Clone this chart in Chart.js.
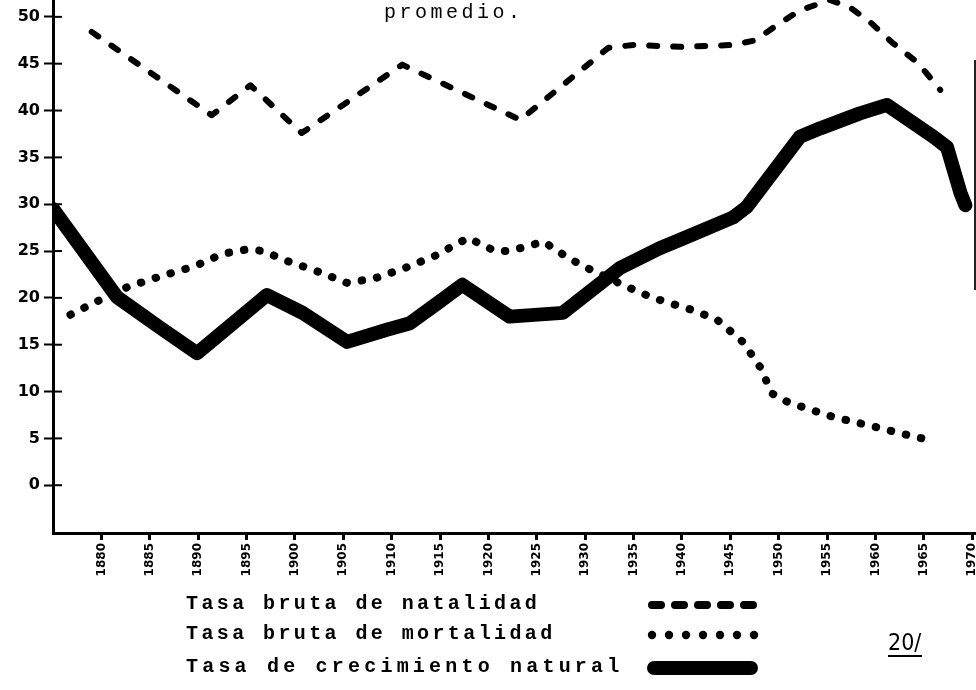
<!DOCTYPE html>
<html lang="es">
<head>
<meta charset="utf-8">
<title>Tasas de natalidad, mortalidad y crecimiento natural</title>
<script src="https://cdn.jsdelivr.net/npm/chart.js@4.4.1/dist/chart.umd.min.js"></script>
<style>
  html, body { margin: 0; padding: 0; background: #fff; }
  #wrap { position: relative; width: 976px; height: 690px; }
</style>
</head>
<body>
<div id="wrap"><canvas id="tasasChart" width="976" height="690"></canvas></div>
<script>
  "use strict";

  // Axis ticks
  const yTicks = [0, 5, 10, 15, 20, 25, 30, 35, 40, 45, 50];
  const xTicks = [1880, 1885, 1890, 1895, 1900, 1905, 1910, 1915, 1920, 1925,
    1930, 1935, 1940, 1945, 1950, 1955, 1960, 1965, 1970];

  // Tasa bruta de natalidad (per mil)
  const natalidadYears = [1879.0, 1891.4, 1895.4, 1900.7, 1911.1, 1923.3, 1932.4,
    1935.0, 1939.8, 1945.3, 1947.6, 1949.8, 1952.2, 1955.3, 1957.4, 1959.5,
    1961.8, 1964.4, 1966.7];
  const natalidadValues = [48.4, 39.5, 42.7, 37.6, 44.9, 39.0, 46.7,
    47.0, 46.8, 47.0, 47.5, 49.1, 50.7, 51.8, 51.0, 49.4,
    47.2, 45.1, 42.2];

  // Tasa bruta de mortalidad (per mil)
  const mortalidadYears = [1876.8, 1879.1, 1882.8, 1886.1, 1889.7, 1892.5, 1895.2,
    1896.7, 1899.3, 1902.4, 1905.4, 1908.3, 1911.4, 1914.5, 1917.9, 1920.7,
    1922.2, 1925.7, 1928.2, 1930.0, 1934.3, 1937.0, 1940.8, 1943.6, 1946.3,
    1948.1, 1949.3, 1950.9, 1952.9, 1955.6, 1960.5, 1964.3, 1966.0];
  const mortalidadValues = [18.2, 19.4, 21.2, 22.3, 23.4, 24.7, 25.2,
    25.0, 23.9, 22.8, 21.6, 22.1, 23.2, 24.5, 26.4, 25.0,
    25.0, 26.0, 24.3, 23.3, 21.2, 20.0, 18.8, 17.7, 15.3,
    12.6, 9.8, 8.9, 8.2, 7.3, 6.1, 5.1, 4.8];

  // Tasa de crecimiento natural (per mil)
  const crecimientoYears = [1875.0, 1881.6, 1886.1, 1889.9, 1897.1, 1900.8, 1905.4,
    1909.5, 1911.9, 1914.7, 1917.3, 1922.2, 1927.7, 1933.6, 1937.7, 1940.5,
    1945.3, 1946.7, 1952.2, 1954.3, 1958.4, 1961.2, 1966.0, 1967.4, 1968.8, 1969.3];
  const crecimientoValues = [29.5, 20.1, 16.8, 14.1, 20.3, 18.4, 15.3,
    16.6, 17.3, 19.4, 21.4, 18.0, 18.4, 23.2, 25.3, 26.5,
    28.6, 29.7, 37.2, 38.1, 39.7, 40.6, 37.2, 36.1, 31.2, 29.9];

  const seriesLabels = ["Tasa bruta de natalidad", "Tasa bruta de mortalidad",
    "Tasa de crecimiento natural"];

  function toPoints(years, values) {
    return years.map((year, i) => ({ x: year, y: values[i] }));
  }

  // Short tick marks on the chart side of the y axis (ticks cross the axis)
  const crossTicksPlugin = {
    id: "crossTicks",
    afterDraw(chart) {
      const ctx = chart.ctx;
      const yScale = chart.scales.y;
      const left = chart.chartArea.left;
      ctx.save();
      ctx.strokeStyle = "#000";
      ctx.lineWidth = 2;
      yTicks.forEach((v) => {
        const py = yScale.getPixelForValue(v);
        ctx.beginPath();
        ctx.moveTo(left, py);
        ctx.lineTo(left + 9, py);
        ctx.stroke();
      });
      ctx.restore();
    },
  };

  // Legend, caption and note drawn under the plot
  const extrasPlugin = {
    id: "extras",
    afterDraw(chart) {
      const ctx = chart.ctx;
      ctx.save();
      ctx.fillStyle = "#000";
      ctx.strokeStyle = "#000";

      // caption fragment at the top
      ctx.font = "20px 'Liberation Mono', monospace";
      ctx.letterSpacing = "3.5px";
      ctx.textBaseline = "alphabetic";
      ctx.fillText("promedio.", 384, 18);

      // legend text
      const rows = [604, 634, 667];
      ctx.font = "bold 20px 'Liberation Mono', monospace";
      ctx.textBaseline = "middle";
      seriesLabels.forEach((label, i) => {
        ctx.letterSpacing = i === 2 ? "4.2px" : "3.4px";
        ctx.fillText(label, 186, rows[i]);
      });
      ctx.letterSpacing = "0px";

      // legend symbols
      ctx.lineCap = "round";
      ctx.lineWidth = 8;
      ctx.setLineDash([9, 14]);
      ctx.beginPath();
      ctx.moveTo(652, rows[0] + 1);
      ctx.lineTo(757, rows[0] + 1);
      ctx.stroke();

      ctx.setLineDash([]);
      for (let k = 0; k < 7; k++) {
        ctx.beginPath();
        ctx.arc(652 + k * 17, rows[1] + 1, 4.2, 0, Math.PI * 2);
        ctx.fill();
      }

      ctx.lineWidth = 14;
      ctx.beginPath();
      ctx.moveTo(654, rows[2] + 1);
      ctx.lineTo(751, rows[2] + 1);
      ctx.stroke();

      // footnote mark
      ctx.lineCap = "butt";
      ctx.font = "23px 'DejaVu Sans Condensed', 'DejaVu Sans', sans-serif";
      ctx.textBaseline = "alphabetic";
      ctx.fillText("20/", 888, 650);
      ctx.lineWidth = 2;
      ctx.beginPath();
      ctx.moveTo(888, 656);
      ctx.lineTo(922, 656);
      ctx.stroke();

      // page edge from the scan
      ctx.strokeStyle = "#222";
      ctx.lineWidth = 2;
      ctx.beginPath();
      ctx.moveTo(975, 60);
      ctx.lineTo(975, 290);
      ctx.stroke();

      ctx.restore();
    },
  };

  const ctx = document.getElementById("tasasChart").getContext("2d");

  new Chart(ctx, {
    type: "line",
    data: {
      datasets: [
        {
          label: seriesLabels[0],
          data: toPoints(natalidadYears, natalidadValues),
          borderColor: "#000",
          borderWidth: 6,
          borderDash: [8, 16],
          borderCapStyle: "round",
          borderJoinStyle: "round",
          pointRadius: 0,
          tension: 0,
        },
        {
          label: seriesLabels[1],
          data: toPoints(mortalidadYears, mortalidadValues),
          borderColor: "#000",
          borderWidth: 8,
          borderDash: [0.5, 15],
          borderCapStyle: "round",
          borderJoinStyle: "round",
          pointRadius: 0,
          tension: 0,
        },
        {
          label: seriesLabels[2],
          data: toPoints(crecimientoYears, crecimientoValues),
          borderColor: "#000",
          borderWidth: 14,
          borderCapStyle: "round",
          borderJoinStyle: "round",
          pointRadius: 0,
          tension: 0,
        },
      ],
    },
    options: {
      responsive: false,
      animation: false,
      layout: { padding: 0 },
      plugins: {
        legend: { display: false },
        tooltip: { enabled: false },
        title: { display: false },
      },
      scales: {
        x: {
          type: "linear",
          min: 1875,
          max: 1970.4,
          afterBuildTicks: (scale) => {
            scale.ticks = xTicks.map((v) => ({ value: v }));
          },
          afterFit: (scale) => {
            scale.height = 157;
            scale.paddingLeft = 0;
            scale.paddingRight = 0;
          },
          ticks: {
            autoSkip: false,
            minRotation: 90,
            maxRotation: 90,
            padding: 3,
            color: "#000",
            font: { family: "'DejaVu Sans', sans-serif", size: 12, weight: "bold" },
            callback: (v) => String(v),
          },
          grid: {
            drawOnChartArea: false,
            tickLength: 7,
            tickWidth: 3,
            tickColor: "#000",
          },
          border: { color: "#000", width: 3 },
        },
        y: {
          min: -5.1,
          max: 51.8,
          afterBuildTicks: (scale) => {
            scale.ticks = yTicks.map((v) => ({ value: v }));
          },
          afterFit: (scale) => {
            scale.width = 53;
            scale.paddingTop = 0;
            scale.paddingBottom = 0;
          },
          ticks: {
            padding: 4,
            color: "#000",
            font: { family: "'DejaVu Sans', sans-serif", size: 16, weight: "bold" },
            callback: (v) => String(v),
          },
          grid: {
            drawOnChartArea: false,
            tickLength: 9,
            tickWidth: 2,
            tickColor: "#000",
          },
          border: { color: "#000", width: 3 },
        },
      },
    },
    plugins: [crossTicksPlugin, extrasPlugin],
  });
</script>
</body>
</html>
